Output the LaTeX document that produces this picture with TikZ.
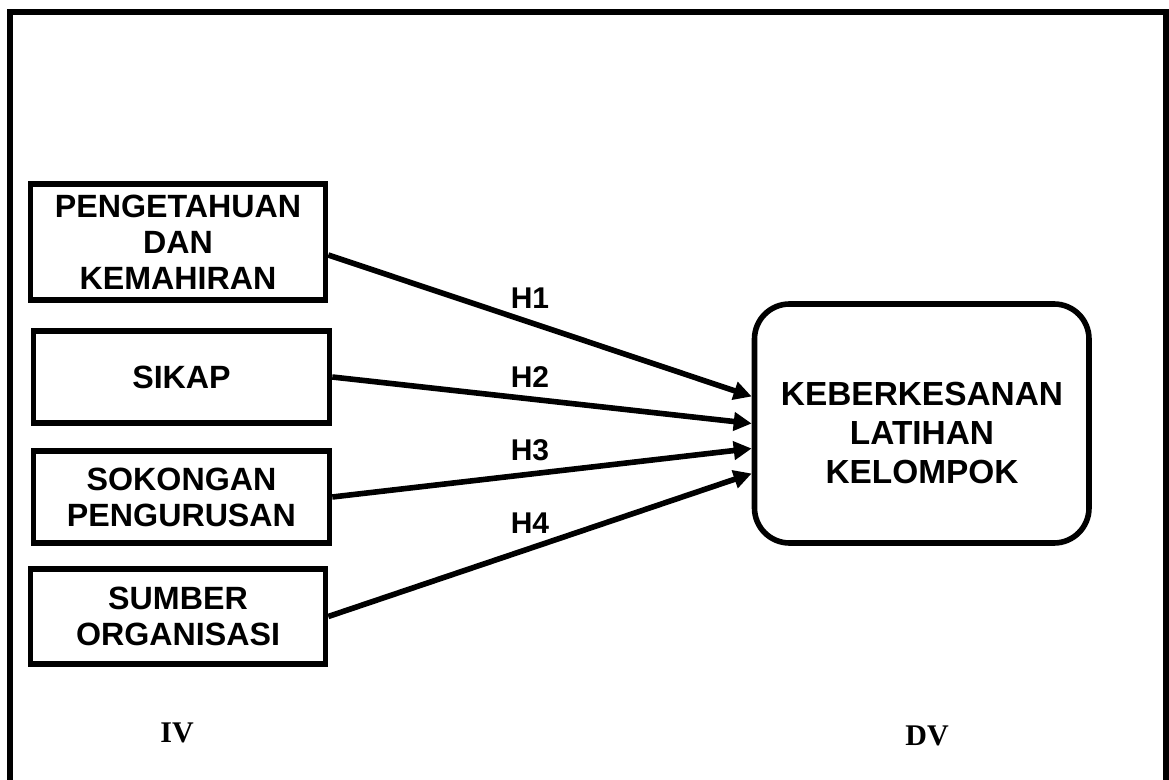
\documentclass[tikz,border=0pt]{standalone}
\usepackage{fontspec}
\setmainfont{Liberation Sans}
\newfontfamily\timesfont{Liberation Serif}
\usetikzlibrary{arrows.meta}

\begin{document}
\begin{tikzpicture}[x=0.5pt,y=-0.5pt,
  ivbox/.style={draw, line width=2.8pt, align=center, inner sep=0pt,
    font=\fontsize{16.1}{18}\selectfont\bfseries},
  dvbox/.style={draw, line width=2.8pt, align=center, rounded corners=17.5pt,
    font=\fontsize{16.7}{19.5}\selectfont\bfseries},
  link/.style={line width=2.8pt, -{Triangle[length=9pt,width=9pt]}},
  hlabel/.style={font=\fontsize{15}{17}\selectfont\bfseries},
  vlabel/.style={font=\fontsize{15}{17}\selectfont\timesfont\bfseries}]

% Frame
\clip (0,0) rectangle (1169,780);
\useasboundingbox (0,0) rectangle (1169,780);
\draw[line width=3pt] (10,800) -- (10,12) -- (1166,12) -- (1166,800);

% Independent variables
\node[ivbox, minimum width=147.5pt, minimum height=58pt] (pengetahuan) at (178,242)
  {PENGETAHUAN\\DAN\\KEMAHIRAN};
\node[ivbox, minimum width=148pt, minimum height=46.25pt] (sikap) at (181.5,377) {SIKAP};
\node[ivbox, minimum width=148pt, minimum height=46.25pt] (sokongan) at (181.5,497)
  {SOKONGAN\\PENGURUSAN};
\node[ivbox, minimum width=147.5pt, minimum height=47.5pt] (sumber) at (178,616.5)
  {SUMBER\\ORGANISASI};

% Dependent variable
\node[dvbox, minimum width=167.25pt, minimum height=119.5pt] (keberkesanan) at (921.75,423.5) {};
\node[dvbox, draw=none] (dvtext) at (922,433) {KEBERKESANAN\\LATIHAN\\KELOMPOK};

% Hypotheses
\draw[link] ([yshift=-6.5pt]pengetahuan.east) -- ([yshift=13.5pt]keberkesanan.west);
\draw[link] (sikap.east) -- (keberkesanan.west);
\draw[link] (sokongan.east) -- ([yshift=-12.5pt]keberkesanan.west);
\draw[link] (sumber.east) -- ([yshift=-25pt]keberkesanan.west);

\node[hlabel] (h1) at (530,298) {H1};
\node[hlabel] (h2) at (530,377) {H2};
\node[hlabel] (h3) at (530,450) {H3};
\node[hlabel] (h4) at (530,523) {H4};

% Labels
\node[vlabel] (iv) at (177,733) {IV};
\node[vlabel] (dv) at (927,736) {DV};

\end{tikzpicture}
\end{document}
